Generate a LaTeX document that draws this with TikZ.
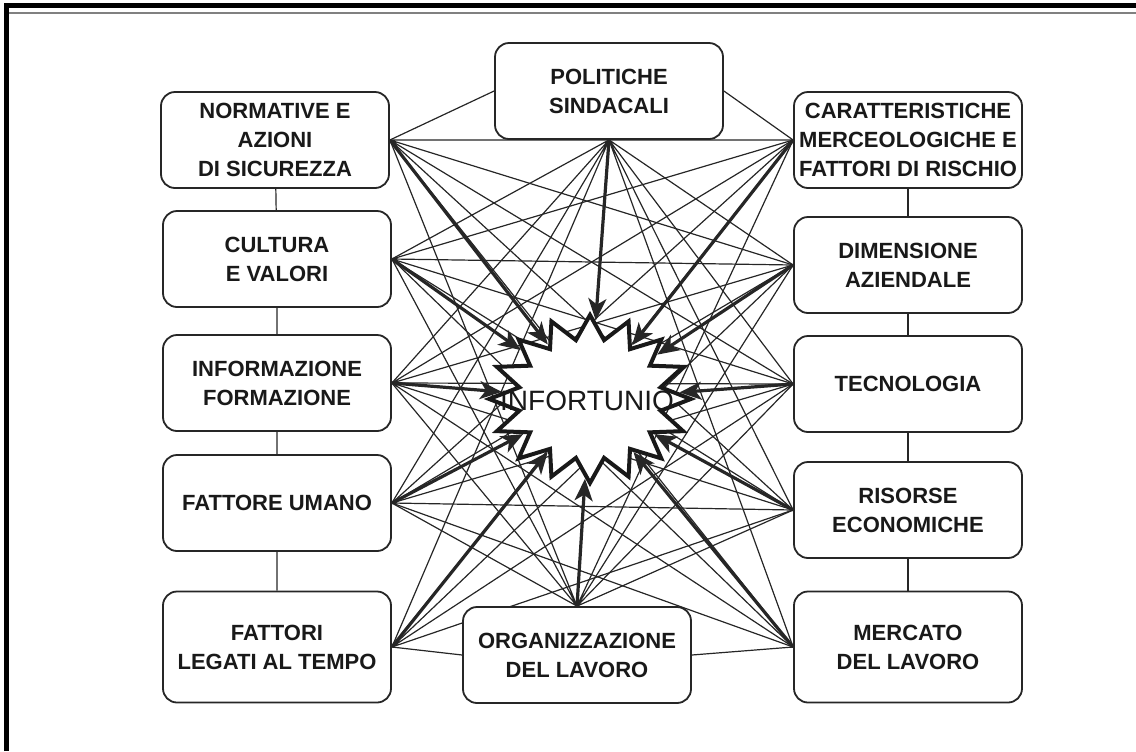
\documentclass[tikz,border=0pt]{standalone}
\usepackage{fontspec}
\setmainfont{Liberation Sans}
\usepackage{tikz}
\usetikzlibrary{shapes.geometric}
\usetikzlibrary{backgrounds}
\usetikzlibrary{arrows.meta}
\tikzstyle{caja}=[rectangle, rounded corners=7pt, draw=black!85, line width=0.9pt, fill=white, align=center, minimum width=114pt, minimum height=48pt, inner sep=2pt, text=black!90, font=\fontsize{11}{14.5}\selectfont\bfseries]
\tikzstyle{caja alta}=[caja, minimum height=55.5pt]
\tikzstyle{enlace}=[draw=black!85, line width=0.6pt]
\tikzstyle{flecha}=[draw=black!85, line width=1.6pt, -{Stealth[length=11pt, width=9pt, inset=3pt]}]

\begin{document}
\begin{tikzpicture}[x=0.5pt, y=-0.5pt]
        \useasboundingbox (0,0) rectangle (1136,751);
        % Marco
        \draw[line width=2.5pt] (6,751) -- (6,5) -- (1136,5);
        \draw[black!50, line width=1.2pt] (9,13) -- (1136,13);

        %% Cajas
        % Izquierda
        \node[caja] (norm) at (275,140) {NORMATIVE E\\AZIONI\\DI SICUREZZA};
        \node[caja] (cult) at (277,259) {CULTURA\\E VALORI};
        \node[caja] (info) at (277,383) {INFORMAZIONE\\FORMAZIONE};
        \node[caja] (umano) at (277,503) {FATTORE UMANO};
        \node[caja alta] (tempo) at (277,647) {FATTORI\\LEGATI AL TEMPO};
        % Arriba y abajo
        \node[caja] (pol) at (609,91) {POLITICHE\\SINDACALI};
        \node[caja] (org) at (577,655) {ORGANIZZAZIONE\\DEL LAVORO};
        % Derecha
        \node[caja] (car) at (908,140) {CARATTERISTICHE\\MERCEOLOGICHE E\\FATTORI DI RISCHIO};
        \node[caja] (dim) at (908,265) {DIMENSIONE\\AZIENDALE};
        \node[caja] (tec) at (908,384) {TECNOLOGIA};
        \node[caja] (ris) at (908,510) {RISORSE\\ECONOMICHE};
        \node[caja alta] (merc) at (908,647) {MERCATO\\DEL LAVORO};

        %% Infortunio
        \node[star, star points=16, star point ratio=1.4, draw=black!90, line width=2pt, fill=white, minimum size=84pt, inner sep=0pt, xscale=1.2] (star) at (590,399) {};
        \node[text=black!90, font=\fontsize{14}{16}\selectfont] (inf) at (587,401) {INFORTUNIO};

        \begin{scope}[on background layer]
        % Columnas
        \draw[enlace] (norm) -- (cult) -- (info) -- (umano) -- (tempo);
        \draw[enlace] (car) -- (dim) -- (tec) -- (ris) -- (merc);
        \draw[enlace] (pol.west) -- (norm.east);
        \draw[enlace] (pol.east) -- (car.west);
        \draw[enlace] (tempo.east) -- (org.west);
        \draw[enlace] (org.east) -- (merc.west);
        % Aristas
        \draw[enlace] (norm.east) -- (car.west) (norm.east) -- (dim.west) (norm.east) -- (tec.west) (norm.east) -- (ris.west) (norm.east) -- (merc.west);
        \draw[enlace] (cult.east) -- (car.west) (cult.east) -- (dim.west) (cult.east) -- (tec.west) (cult.east) -- (ris.west) (cult.east) -- (merc.west);
        \draw[enlace] (info.east) -- (car.west) (info.east) -- (dim.west) (info.east) -- (tec.west) (info.east) -- (ris.west) (info.east) -- (merc.west);
        \draw[enlace] (umano.east) -- (car.west) (umano.east) -- (dim.west) (umano.east) -- (tec.west) (umano.east) -- (ris.west) (umano.east) -- (merc.west);
        \draw[enlace] (tempo.east) -- (car.west) (tempo.east) -- (dim.west) (tempo.east) -- (tec.west) (tempo.east) -- (ris.west);
        \draw[enlace] (pol.south) -- (cult.east) (pol.south) -- (info.east) (pol.south) -- (umano.east) (pol.south) -- (tempo.east);
        \draw[enlace] (pol.south) -- (dim.west) (pol.south) -- (tec.west) (pol.south) -- (ris.west) (pol.south) -- (merc.west);
        \draw[enlace] (org.north) -- (norm.east) (org.north) -- (cult.east) (org.north) -- (info.east) (org.north) -- (umano.east);
        \draw[enlace] (org.north) -- (car.west) (org.north) -- (dim.west) (org.north) -- (tec.west) (org.north) -- (ris.west);
        % Flechas
        \draw[flecha] (norm.east) -- (star);
        \draw[flecha] (cult.east) -- (star);
        \draw[flecha] (info.east) -- (star);
        \draw[flecha] (umano.east) -- (star);
        \draw[flecha] (tempo.east) -- (star);
        \draw[flecha] (pol.south) -- (star);
        \draw[flecha] (org.north) -- (star);
        \draw[flecha] (car.west) -- (star);
        \draw[flecha] (dim.west) -- (star);
        \draw[flecha] (tec.west) -- (star);
        \draw[flecha] (ris.west) -- (star);
        \draw[flecha] (merc.west) -- (star);
        \end{scope}
    \end{tikzpicture}
\end{document}
